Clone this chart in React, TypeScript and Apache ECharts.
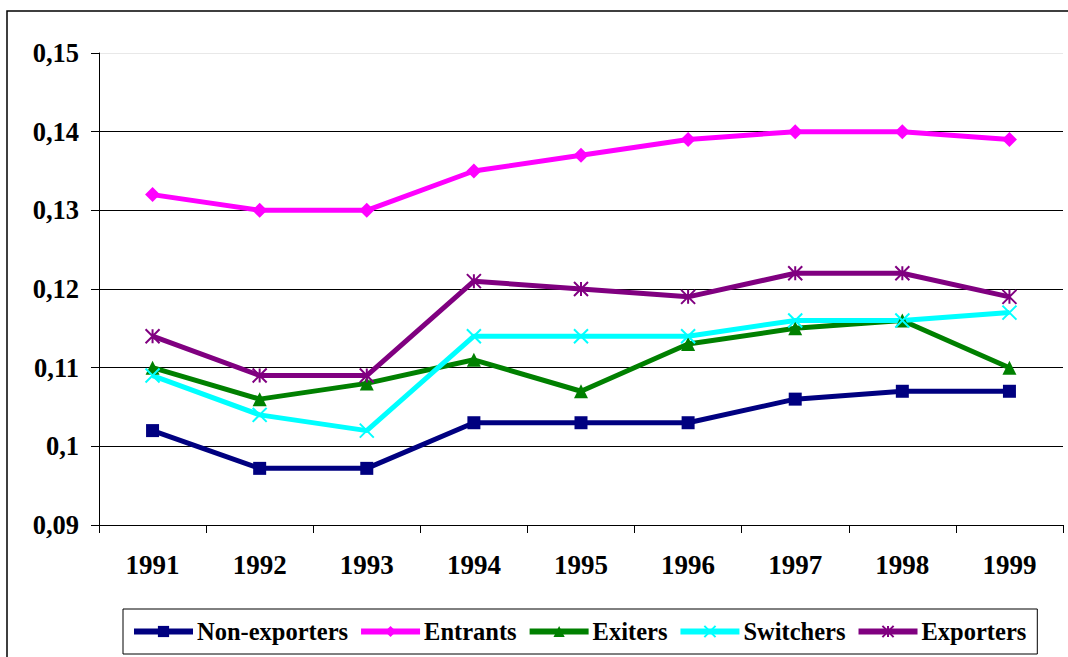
import React, { useEffect, useRef } from "react";
import * as echarts from "echarts";

const years = ["1991", "1992", "1993", "1994", "1995", "1996", "1997", "1998", "1999"];
const nonExporters = [0.102, 0.0972, 0.0972, 0.103, 0.103, 0.103, 0.106, 0.107, 0.107];
const entrants = [0.132, 0.13, 0.13, 0.135, 0.137, 0.139, 0.14, 0.14, 0.139];
const exiters = [0.11, 0.106, 0.108, 0.111, 0.107, 0.113, 0.115, 0.116, 0.11];
const switchers = [0.109, 0.104, 0.102, 0.114, 0.114, 0.114, 0.116, 0.116, 0.117];
const exporters = [0.114, 0.109, 0.109, 0.121, 0.12, 0.119, 0.122, 0.122, 0.119];

const FONT = "'Liberation Serif', 'Times New Roman', serif";

export default function App() {
  const ref = useRef<HTMLDivElement>(null);
  useEffect(() => {
    if (!ref.current) return;
    const chart = echarts.init(ref.current, undefined, { renderer: "svg" });
    const mk = (name: string, data: number[], color: string, symbol: string, size: number, stroke = false) => ({
      name,
      type: "line",
      data,
      color,
      symbol,
      symbolSize: size,
      lineStyle: { width: 5, color },
      itemStyle: stroke ? { color, borderColor: color, borderWidth: 2 } : { color },
      emphasis: { disabled: true },
    });
    chart.setOption({
      animation: false,
      backgroundColor: "#fff",
      textStyle: { fontFamily: FONT },
      graphic: [
        {
          type: "rect",
          shape: { x: 7, y: 11, width: 1100, height: 700 },
          style: { fill: "none", stroke: "#000", lineWidth: 1.5 },
          silent: true,
          z: -1,
        },
      ],
      grid: { left: 99, top: 53, right: 5, bottom: 132 },
      xAxis: {
        type: "category",
        data: years,
        boundaryGap: true,
        axisLine: { lineStyle: { color: "#000", width: 1 } },
        axisTick: { show: true, length: 8, lineStyle: { color: "#000" } },
        axisLabel: { color: "#000", fontSize: 27, fontWeight: "bold", fontFamily: FONT, margin: 26 },
        splitLine: { show: false },
      },
      yAxis: {
        type: "value",
        min: 0.09,
        max: 0.15,
        interval: 0.01,
        axisLine: { show: true, lineStyle: { color: "#000", width: 1 } },
        axisTick: { show: true, length: 8, lineStyle: { color: "#000" } },
        axisLabel: {
          color: "#000",
          fontSize: 26.5,
          fontWeight: "bold",
          fontFamily: FONT,
          margin: 20,
          formatter: (v: number) => String(Number(v.toFixed(4))).replace(".", ","),
        },
        splitLine: {
          show: true,
          lineStyle: { color: ["#000", "#000", "#000", "#000", "#000", "#000", "#e8e8e8"], width: 1 },
        },
      },
      legend: {
        left: 123,
        top: 609,
        orient: "horizontal",
        padding: [10, 11, 10, 8],
        itemGap: 10,
        itemWidth: 59,
        itemHeight: 14,
        borderColor: "#000",
        borderWidth: 1,
        lineStyle: { width: 6 },
        textStyle: { color: "#000", fontSize: 24.5, fontWeight: "bold", fontFamily: FONT, padding: [0, 0, 0, -1] },
        data: ["Non-exporters", "Entrants", "Exiters", "Switchers", "Exporters"],
      },
      series: [
        mk("Non-exporters", nonExporters, "#000080", "rect", 13),
        mk("Entrants", entrants, "#FF00FF", "diamond", 15),
        mk("Exiters", exiters, "#008000", "triangle", 14),
        mk("Switchers", switchers, "#00FFFF", "path://M0,0L10,10M10,0L0,10", 14, true),
        mk("Exporters", exporters, "#800080", "path://M0,0L10,10M10,0L0,10M5,0L5,10", 14, true),
      ],
    });
    return () => chart.dispose();
  }, []);
  return (
    <div
      ref={ref}
      style={{ position: "fixed", left: 0, top: 0, width: 1068, height: 657, background: "#fff" }}
    />
  );
}
